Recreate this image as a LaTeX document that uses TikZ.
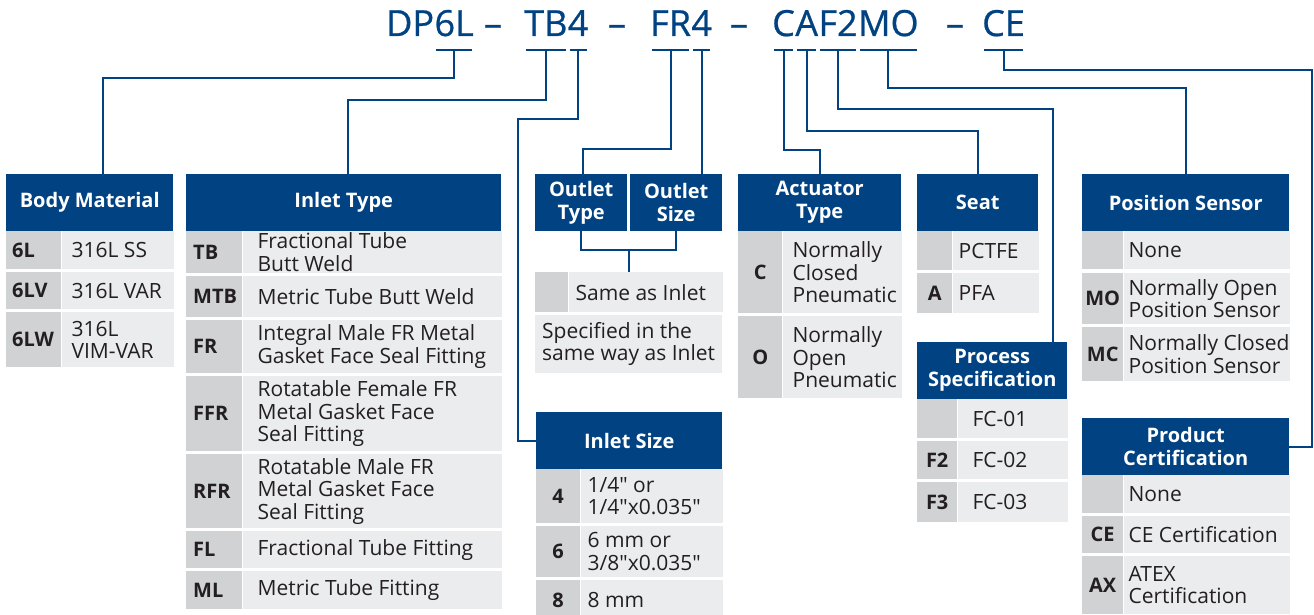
\documentclass[tikz,border=0pt]{standalone}
\usepackage{fontspec}
\newfontfamily\ordSans{Open Sans}
\newfontfamily\ordHeavy{Open Sans}[FakeBold=0.7]
\definecolor{ordBlue}{HTML}{004282}
\definecolor{ordGray}{HTML}{D1D2D4}
\definecolor{ordLight}{HTML}{EBECEE}
\definecolor{ordInk}{HTML}{231F20}
\begin{document}
\begin{tikzpicture}[x=1pt,y=-1pt,
    ordHdr/.style={anchor=north west,fill=ordBlue,text=white,inner sep=0pt,align=center,font=\ordSans\bfseries\fontsize{20}{23}\selectfont},
    ordCode/.style={anchor=north west,fill=ordGray,inner sep=0pt,text=ordInk,font=\ordSans\bfseries\fontsize{20}{22}\selectfont},
    ordCodeL/.style={anchor=west,xshift=6pt,inner sep=0pt,text=ordInk,font=\ordSans\bfseries\fontsize{20}{22}\selectfont},
    ordDesc/.style={anchor=north west,fill=ordLight,inner sep=0pt},
    ordTxt/.style={anchor=west,inner sep=0pt,align=left,text=ordInk,font=\ordSans\fontsize{21}{22.5}\selectfont},
    ordTitle/.style={anchor=base west,inner sep=0pt,text=ordBlue,font=\ordHeavy\fontsize{36}{40}\selectfont},
    ordLink/.style={draw=ordBlue,line width=2pt},
    ordBar/.style={draw=ordBlue,line width=2.5pt,shorten <=2pt,shorten >=2pt},
]
\useasboundingbox (0,0) rectangle (1314,615);
\node[ordTitle] (tDP) at (386,36) {DP};
\node[ordTitle] (t6L) at (tDP.base east) {6L};
\node[ordTitle,anchor=base] (tD1) at (493,36) {–};
\node[ordTitle] (tTB) at (524,36) {TB};
\node[ordTitle] (t4a) at (tTB.base east) {4};
\node[ordTitle,anchor=base] (tD2) at (617,36) {–};
\node[ordTitle] (tFR) at (650,36) {FR};
\node[ordTitle] (t4b) at (tFR.base east) {4};
\node[ordTitle,anchor=base] (tD3) at (739,36) {–};
\node[ordTitle] (tC) at (772,36) {C};
\node[ordTitle] (tA) at (tC.base east) {A};
\node[ordTitle] (tF2) at (tA.base east) {F2};
\node[ordTitle] (tMO) at (tF2.base east) {MO};
\node[ordTitle,anchor=base] (tD4) at (955,36) {–};
\node[ordTitle] (tCE) at (982,36) {CE};
\coordinate (barLvl) at (0,50);
\foreach \p in {t6L,tTB,t4a,tFR,t4b,tC,tA,tF2,tMO,tCE}
  \draw[ordBar] (\p.west |- barLvl) -- (\p.east |- barLvl);
% body material
\node[ordHdr,minimum width=167pt,minimum height=57pt] (hBody) at (6,174) {Body Material};
\node[ordCode,minimum width=55pt,minimum height=38pt,label={[ordCodeL]west:6L}] (bmA) at (6,231) {};
\node[ordDesc,minimum width=112pt,minimum height=38pt,label={[ordTxt,xshift=10pt]west:316L SS}] (bmAt) at (bmA.north east) {};
\node[ordCode,minimum width=55pt,minimum height=37pt,label={[ordCodeL]west:6LV}] (bmB) at (6,272) {};
\node[ordDesc,minimum width=112pt,minimum height=37pt,label={[ordTxt,xshift=10pt]west:316L VAR}] (bmBt) at (bmB.north east) {};
\node[ordCode,minimum width=55pt,minimum height=55pt,label={[ordCodeL]west:6LW}] (bmC) at (6,312) {};
\node[ordDesc,minimum width=112pt,minimum height=55pt,label={[ordTxt,xshift=10pt]west:{316L\\VIM-VAR}}] (bmCt) at (bmC.north east) {};
% inlet type
\node[ordHdr,minimum width=315pt,minimum height=57pt] (hInT) at (186,174) {Inlet Type};
\node[ordCode,minimum width=56pt,minimum height=42pt,label={[ordCodeL,xshift=1pt]west:TB}] (itA) at (186,231) {};
\node[ordDesc,minimum width=259pt,minimum height=42pt,label={[ordTxt,xshift=15pt]west:{Fractional Tube\\Butt Weld}}] (itAt) at (itA.north east) {};
\node[ordCode,minimum width=56pt,minimum height=41pt,label={[ordCodeL,xshift=1pt]west:MTB}] (itB) at (186,276) {};
\node[ordDesc,minimum width=259pt,minimum height=41pt,label={[ordTxt,xshift=15pt]west:Metric Tube Butt Weld}] (itBt) at (itB.north east) {};
\node[ordCode,minimum width=56pt,minimum height=53pt,label={[ordCodeL,xshift=1pt]west:FR}] (itC) at (186,320) {};
\node[ordDesc,minimum width=259pt,minimum height=53pt,label={[ordTxt,xshift=15pt]west:{Integral Male FR Metal\\Gasket Face Seal Fitting}}] (itCt) at (itC.north east) {};
\node[ordCode,minimum width=56pt,minimum height=75pt,label={[ordCodeL,xshift=1pt]west:FFR}] (itD) at (186,376) {};
\node[ordDesc,minimum width=259pt,minimum height=75pt,label={[ordTxt,xshift=15pt]west:{Rotatable Female FR\\Metal Gasket Face\\Seal Fitting}}] (itDt) at (itD.north east) {};
\node[ordCode,minimum width=56pt,minimum height=74pt,label={[ordCodeL,xshift=1pt]west:RFR}] (itE) at (186,454) {};
\node[ordDesc,minimum width=259pt,minimum height=74pt,label={[ordTxt,xshift=15pt]west:{Rotatable Male FR\\Metal Gasket Face\\Seal Fitting}}] (itEt) at (itE.north east) {};
\node[ordCode,minimum width=56pt,minimum height=37pt,label={[ordCodeL,xshift=1pt]west:FL}] (itF) at (186,531) {};
\node[ordDesc,minimum width=259pt,minimum height=37pt,label={[ordTxt,xshift=15pt]west:Fractional Tube Fitting}] (itFt) at (itF.north east) {};
\node[ordCode,minimum width=56pt,minimum height=38pt,label={[ordCodeL,xshift=1pt]west:ML}] (itG) at (186,571) {};
\node[ordDesc,minimum width=259pt,minimum height=38pt,label={[ordTxt,xshift=15pt]west:Metric Tube Fitting}] (itGt) at (itG.north east) {};
% outlet
\node[ordHdr,minimum width=92pt,minimum height=57pt] (hOutT) at (535,174) {Outlet\\Type};
\node[ordHdr,minimum width=92pt,minimum height=57pt] (hOutS) at (630,174) {Outlet\\Size};
\node[ordCode,minimum width=33pt,minimum height=40pt] (osC) at (535,272) {};
\node[ordDesc,minimum width=154pt,minimum height=40pt,label={[ordTxt,xshift=7pt]west:Same as Inlet}] (osCt) at (osC.north east) {};
\node[ordDesc,minimum width=187pt,minimum height=58pt,label={[ordTxt,xshift=7pt]west:{Specified in the\\same way as Inlet}}] (osD) at (535,315) {};
% inlet size
\node[ordHdr,minimum width=186pt,minimum height=57pt] (hInS) at (536,412) {Inlet Size};
\node[ordCode,minimum width=44pt,minimum height=54pt] (isA) at (536,469) {4};
\node[ordDesc,minimum width=142pt,minimum height=54pt,label={[ordTxt,xshift=7pt]west:{1/4" or\\1/4"x0.035"}}] (isAt) at (isA.north east) {};
\node[ordCode,minimum width=44pt,minimum height=51pt] (isB) at (536,526) {6};
\node[ordDesc,minimum width=142pt,minimum height=51pt,label={[ordTxt,xshift=7pt]west:{6 mm or\\3/8"x0.035"}}] (isBt) at (isB.north east) {};
\node[ordCode,minimum width=44pt,minimum height=40pt] (isC) at (536,580) {8};
\node[ordDesc,minimum width=142pt,minimum height=40pt,label={[ordTxt,xshift=7pt]west:8 mm}] (isCt) at (isC.north east) {};
% actuator type
\node[ordHdr,minimum width=163pt,minimum height=57pt] (hAct) at (738,174) {Actuator\\Type};
\node[ordCode,minimum width=44pt,minimum height=82pt] (atA) at (738,231) {C};
\node[ordDesc,minimum width=119pt,minimum height=82pt,label={[ordTxt,xshift=10pt]west:{Normally\\Closed\\Pneumatic}}] (atAt) at (atA.north east) {};
\node[ordCode,minimum width=44pt,minimum height=82pt] (atB) at (738,316) {O};
\node[ordDesc,minimum width=119pt,minimum height=82pt,label={[ordTxt,xshift=10pt]west:{Normally\\Open\\Pneumatic}}] (atBt) at (atB.north east) {};
% seat
\node[ordHdr,minimum width=121pt,minimum height=57pt] (hSeat) at (917,174) {Seat};
\node[ordCode,minimum width=35pt,minimum height=39pt] (stA) at (917,231) {};
\node[ordDesc,minimum width=86pt,minimum height=39pt,label={[ordTxt,xshift=6pt]west:PCTFE}] (stAt) at (stA.north east) {};
\node[ordCode,minimum width=35pt,minimum height=40pt] (stB) at (917,273) {A};
\node[ordDesc,minimum width=86pt,minimum height=40pt,label={[ordTxt,xshift=6pt]west:PFA}] (stBt) at (stB.north east) {};
% process specification
\node[ordHdr,minimum width=150pt,minimum height=57pt] (hProc) at (917,342) {Process\\Specification};
\node[ordCode,minimum width=40pt,minimum height=39pt] (psA) at (917,399) {};
\node[ordDesc,minimum width=110pt,minimum height=39pt,label={[ordTxt,xshift=15pt]west:FC-01}] (psAt) at (psA.north east) {};
\node[ordCode,minimum width=40pt,minimum height=38pt] (psB) at (917,441) {F2};
\node[ordDesc,minimum width=110pt,minimum height=38pt,label={[ordTxt,xshift=15pt]west:FC-02}] (psBt) at (psB.north east) {};
\node[ordCode,minimum width=40pt,minimum height=40pt] (psC) at (917,482) {F3};
\node[ordDesc,minimum width=110pt,minimum height=40pt,label={[ordTxt,xshift=15pt]west:FC-03}] (psCt) at (psC.north east) {};
% position sensor
\node[ordHdr,minimum width=207pt,minimum height=57pt] (hPos) at (1082,174) {Position Sensor};
\node[ordCode,minimum width=41pt,minimum height=38pt] (pnA) at (1082,231) {};
\node[ordDesc,minimum width=166pt,minimum height=38pt,label={[ordTxt,xshift=5pt]west:None}] (pnAt) at (pnA.north east) {};
\node[ordCode,minimum width=41pt,minimum height=51pt] (pnB) at (1082,273) {MO};
\node[ordDesc,minimum width=166pt,minimum height=51pt,label={[ordTxt,xshift=5pt]west:{Normally Open\\Position Sensor}}] (pnBt) at (pnB.north east) {};
\node[ordCode,minimum width=41pt,minimum height=54pt] (pnC) at (1082,327) {MC};
\node[ordDesc,minimum width=166pt,minimum height=54pt,label={[ordTxt,xshift=5pt]west:{Normally Closed\\Position Sensor}}] (pnCt) at (pnC.north east) {};
% product certification
\node[ordHdr,minimum width=207pt,minimum height=57pt] (hCert) at (1082,418) {Product\\Certification};
\node[ordCode,minimum width=41pt,minimum height=38pt] (pcA) at (1082,475) {};
\node[ordDesc,minimum width=166pt,minimum height=38pt,label={[ordTxt,xshift=5pt]west:None}] (pcAt) at (pcA.north east) {};
\node[ordCode,minimum width=41pt,minimum height=37pt] (pcB) at (1082,516) {CE};
\node[ordDesc,minimum width=166pt,minimum height=37pt,label={[ordTxt,xshift=5pt]west:CE Certification}] (pcBt) at (pcB.north east) {};
\node[ordCode,minimum width=41pt,minimum height=58pt] (pcC) at (1082,556) {AX};
\node[ordDesc,minimum width=166pt,minimum height=58pt,label={[ordTxt,xshift=5pt]west:{ATEX\\Certification}}] (pcCt) at (pcC.north east) {};
% links
\coordinate (outJn) at (629,250);
\coordinate (ceTurn) at (1312,70);
\draw[ordLink] (t6L |- barLvl) -- ++(0,28) -| ([xshift=97pt]hBody.north west);
\draw[ordLink] (tTB |- barLvl) -- ++(0,50) -| ([xshift=162pt]hInT.north west);
\draw[ordLink] (t4a |- barLvl) |- ++(-60,69) |- (hInS.west);
\draw[ordLink] (tFR |- barLvl) -- ++(0,99) -| ([xshift=2pt]hOutT.north);
\draw[ordLink] (t4b |- barLvl) -- (t4b |- hOutS.north);
\draw[ordLink] (tC |- barLvl) -- ++(0,100) -| (hAct.north);
\draw[ordLink] (tA |- barLvl) -- ++(0,81) -| (hSeat.north);
\draw[ordLink] (tF2 |- barLvl) -- ++(0,59) -| ([xshift=-14pt]hProc.north east);
\draw[ordLink] (tMO |- barLvl) -- ++(0,38) -| (hPos.north);
\draw[ordLink] (tCE |- barLvl) |- (ceTurn) |- (hCert.east);
\draw[ordLink] (hOutT.south) |- (outJn) -| (hOutS.south);
\draw[ordLink] (outJn) -- (outJn |- osC.north);
\end{tikzpicture}
\end{document}
